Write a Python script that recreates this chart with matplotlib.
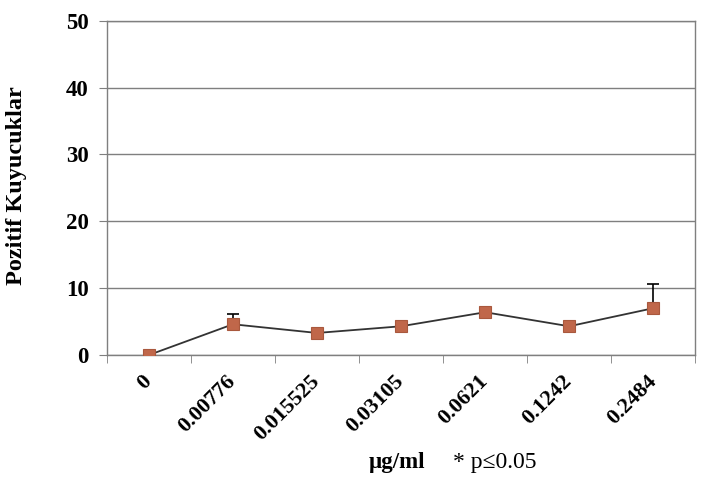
import matplotlib
matplotlib.use("Agg")
import matplotlib.pyplot as plt

categories = ["0", "0.00776", "0.015525", "0.03105", "0.0621", "0.1242", "0.2484"]
values = [0.0, 4.6, 3.3, 4.3, 6.4, 4.3, 7.0]
errors = [0.0, 1.6, 0.0, 0.0, 0.0, 0.0, 3.6]
y_ticks = [0, 10, 20, 30, 40, 50]

plt.rcParams["font.family"] = ["Liberation Serif", "DejaVu Serif"]

fig = plt.figure(figsize=(7.03, 4.88), dpi=100)
ax = fig.add_axes([0.152, 0.2725, 0.837, 0.685])

x = list(range(len(categories)))
ax.errorbar(x, values, yerr=[[0] * len(errors), errors], fmt="none",
            ecolor="black", elinewidth=1.2, capsize=4, capthick=1.2, zorder=2)
ax.plot(x, values, color="#333333", linewidth=1.3, zorder=3)
ax.plot(x, values, linestyle="none", marker="s", markersize=8,
        markerfacecolor="#C0674A", markeredgecolor="#A9583D",
        markeredgewidth=0.8, zorder=4)

ax.set_xlim(-0.5, len(categories) - 0.5)
ax.set_ylim(0, 50)
ax.set_yticks(y_ticks)
ax.set_yticklabels([str(t) for t in y_ticks], fontsize=16.5, fontweight="bold")
ax.yaxis.grid(True, color="#7f7f7f", linewidth=1)
ax.set_axisbelow(True)

ax.set_xticks(x)
ax.set_xticklabels(categories, rotation=45, ha="right", va="center",
                   rotation_mode="anchor", fontsize=16, fontweight="bold")
ax.set_xticks([i - 0.5 for i in range(len(categories) + 1)], minor=True)
ax.tick_params(axis="x", which="major", length=0, pad=17)
ax.tick_params(axis="x", which="minor", length=6, color="#7f7f7f")
ax.tick_params(axis="y", length=6, color="#7f7f7f", pad=7)

for s in ax.spines.values():
    s.set_color("#7f7f7f")
    s.set_linewidth(1)

fig.text(0.024, 0.62, "Pozitif Kuyucuklar", rotation=90, ha="center", va="center",
         fontsize=17.5, fontweight="bold")
fig.text(0.565, 0.053, "µg/ml", ha="center", va="center", fontsize=16.5, fontweight="bold")
fig.text(0.645, 0.053, "* p≤0.05", ha="left", va="center", fontsize=17)

fig.savefig("out.png", dpi=100)
